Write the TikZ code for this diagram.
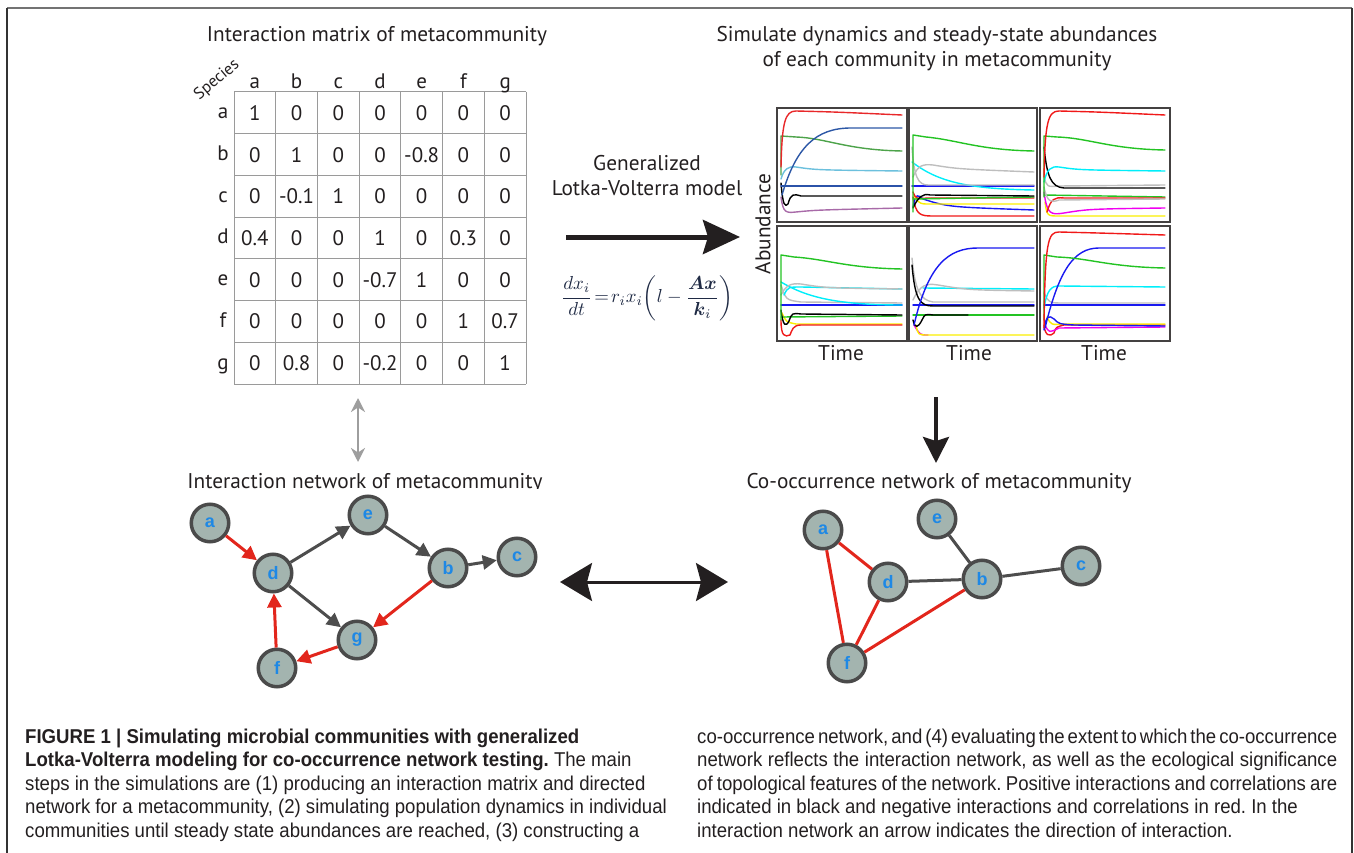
\documentclass[tikz,border=0pt]{standalone}
\usepackage{amsmath}
\usepackage{graphicx}
\usepackage{fontspec}
\setmainfont{PT Sans}
\newfontfamily\capfont[FakeStretch=0.93]{Liberation Sans}
\newfontfamily\lblfont{Liberation Sans}
\usetikzlibrary{arrows.meta}
\frenchspacing

\definecolor{ink}{HTML}{231F20}
\definecolor{gridgray}{HTML}{9A9A9A}
\definecolor{nodefill}{RGB}{163,180,175}
\definecolor{nodeedge}{HTML}{4A4A4A}
\definecolor{labelblue}{RGB}{30,136,229}
\definecolor{negred}{RGB}{226,38,28}
\definecolor{posgray}{HTML}{4D4D4D}
\definecolor{eqnavy}{HTML}{1F2A44}
\definecolor{cRed}{RGB}{240,25,25}
\definecolor{cGreen}{RGB}{35,195,35}
\definecolor{cCyan}{RGB}{0,238,250}
\definecolor{cBlue}{RGB}{25,25,240}
\definecolor{cGray}{RGB}{190,190,190}
\definecolor{cYel}{RGB}{250,238,0}
\definecolor{cMag}{RGB}{240,0,240}
\definecolor{mRed}{RGB}{232,40,42}
\definecolor{mNavy}{RGB}{44,87,166}
\definecolor{mGreen}{RGB}{77,163,74}
\definecolor{mLight}{RGB}{108,192,221}
\definecolor{mBlue}{RGB}{43,82,168}
\definecolor{mPurple}{RGB}{168,106,168}

\newcommand\headsize{\fontsize{21.3}{25}\selectfont}
\newcommand\cellsize{\fontsize{21}{25}\selectfont}
\newcommand\capsize{\fontsize{20}{23.5}\selectfont}
% justified caption line: tight interword spaces, spread to the column width
\newcommand\fullline[1]{{\spaceskip=0.17em plus 0.6em minus 0.05em\makebox[640pt][s]{#1}}}

\tikzset{
  heading/.style={font=\headsize, text=ink, inner sep=0pt, anchor=base},
  cell/.style={font=\cellsize, text=ink, inner sep=0pt, anchor=base},
  sp/.style={circle, draw=nodeedge, line width=3.5pt, fill=nodefill,
    minimum size=37.5pt, inner sep=0pt, font=\lblfont\bfseries\fontsize{18}{18}\selectfont,
    text=labelblue},
  posedge/.style={draw=posgray, line width=3pt},
  negedge/.style={draw=negred, line width=3pt},
  tipped/.style={-{Triangle[length=14pt,width=14pt]}},
  panel/.style={draw=ink!85, line width=1.6pt, minimum width=130pt,
    minimum height=114pt, inner sep=0pt, anchor=north west},
  curve/.style={line width=1.4pt, line cap=round, line join=round},
  capline/.style={anchor=base west, inner sep=0pt, font=\capfont\capsize, text=ink},
}

\begin{document}
\begin{tikzpicture}[x=1pt,y=-1pt]
\useasboundingbox (0,0) rectangle (1354,853);

% outer frame (open at the bottom)
\draw[line width=1.6pt, draw=black!55] (7,8) -- (1352,8);
\draw[line width=1.6pt, draw=black!80] (7,8) -- (7,853);
\draw[line width=1.6pt, draw=black!80] (1352,8) -- (1352,853);

% ---------- interaction matrix ----------
\node[heading] (t-matrix) at (377,42) {Interaction matrix of metacommunity};
\foreach \k in {0,...,7} {
  \draw[gridgray, line width=1pt] ({234+41.714*\k},92) -- ({234+41.714*\k},384);
  \draw[gridgray, line width=1pt] (234,{92+41.714*\k}) -- (526,{92+41.714*\k});
}
\node[font=\fontsize{16.5}{18}\selectfont, text=ink, inner sep=0pt, rotate=40] (species) at (217,80) {Species};
\foreach \s [count=\j from 0] in {a,b,c,d,e,f,g} {
  \node[cell] (col-\s) at ({234+41.714*(\j+0.5)},89) {\s};
  \node[cell] (row-\s) at (223,{92+41.714*(\j+0.5)+6}) {\s};
}
\foreach \r/\vals [count=\i from 0] in {
  a/{1,0,0,0,0,0,0},
  b/{0,1,0,0,-0.8,0,0},
  c/{0,-0.1,1,0,0,0,0},
  d/{0.4,0,0,1,0,0.3,0},
  e/{0,0,0,-0.7,1,0,0},
  f/{0,0,0,0,0,1,0.7},
  g/{0,0.8,0,-0.2,0,0,1}} {
  \foreach \v [count=\j from 0] in \vals {
    \node[cell] (m-\i-\j) at ({234+41.714*(\j+0.5)},{92+41.714*(\i+0.5)+7.5}) {\v};
  }
}

% ---------- model arrow ----------
\node[heading] (glv1) at (647,171) {Generalized};
\node[heading] (glv2) at (647,196) {Lotka-Volterra model};
\coordinate (lv-from) at (566,237);
\coordinate (lv-to) at (740,237);
\draw[line width=5pt, draw=ink, -{Stealth[length=37pt,width=34pt,inset=5pt]}] (lv-from) -- (lv-to);
\node[inner sep=0pt, text=eqnavy] (eqn) at (647,298)
  {\resizebox{172pt}{!}{$\dfrac{dx_i}{dt}\!=\!r_i x_i\!\left(l-\dfrac{\boldsymbol{Ax}}{\boldsymbol{k}_i}\right)$}};

% ---------- dynamics panels ----------
\node[heading] (t-dyn1) at (937,42) {Simulate dynamics and steady-state abundances};
\node[heading] (t-dyn2) at (937,67) {of each community in metacommunity};
\node[font=\headsize, text=ink, inner sep=0pt, rotate=90] (abund) at (763,224) {Abundance};

% panel 1
\begin{scope}[shift={(776,107)}]
\clip (0,0) rectangle (130,114);
\draw[curve, mPurple] (5,90) .. controls (7,106) and (10,106) .. (20,105) .. controls (40,103) .. (126,101);
\draw[curve, black] (5,76) .. controls (7,100) and (9,100) .. (12,97) .. controls (15,86) and (18,87) .. (25,89) -- (126,89);
\draw[curve, mBlue] (5,79) -- (126,79);
\draw[curve, mLight] (5,72) .. controls (8,62) and (12,59) .. (20,60) .. controls (40,63) .. (126,64);
\draw[curve, mGreen] (5,68) -- (5,29) -- (20,30) .. controls (50,31) and (70,43) .. (126,44);
\draw[curve, mNavy] (6,88) .. controls (20,40) and (40,21) .. (75,21) -- (126,21);
\draw[curve, mRed] (5,60) .. controls (6,15) and (9,4) .. (20,4) .. controls (60,5) .. (126,8);
\end{scope}
\node[panel] (p1) at (776,107) {};

% panel 2
\begin{scope}[shift={(908,107)}]
\clip (0,0) rectangle (128,114);
\draw[curve, cRed] (5,90) .. controls (8,108) and (12,109) .. (25,109) -- (126,109);
\draw[curve, cBlue] (5,100) .. controls (8,85) and (10,88) .. (15,92) .. controls (40,100) .. (126,103);
\draw[curve, cYel] (6,88) .. controls (10,98) and (14,97) .. (25,97) -- (126,97);
\draw[curve, cRed] (5,85) .. controls (8,92) .. (20,91) -- (126,91);
\draw[curve, cGreen] (5,92) -- (126,90);
\draw[curve, black] (5,101) .. controls (10,90) and (15,86) .. (22,88) -- (126,89);
\draw[curve, cBlue] (4,79) -- (126,79);
\draw[curve, cCyan] (4,55) .. controls (30,75) and (60,82) .. (126,83);
\draw[curve, cGray] (4,40) .. controls (6,70) and (10,78) .. (20,78) -- (126,78);
\draw[curve, cGray] (5,70) .. controls (10,58) and (15,57) .. (25,58) .. controls (50,62) .. (126,65);
\draw[curve, cGreen] (5,105) -- (5,28) -- (18,30) .. controls (50,33) and (70,43) .. (126,44);
\end{scope}
\node[panel, minimum width=128pt] (p2) at (908,107) {};

% panel 3
\begin{scope}[shift={(1039,107)}]
\clip (0,0) rectangle (130,114);
\draw[curve, cYel] (6,95) .. controls (8,109) .. (20,109) -- (126,109);
\draw[curve, cMag] (5,85) .. controls (8,108) and (12,108) .. (25,106) .. controls (50,102) .. (126,101);
\draw[curve, cGreen] (5,88) -- (126,90);
\draw[curve, cRed] (8,105) .. controls (12,92) and (15,90) .. (25,91) -- (126,91);
\draw[curve, cGray] (5,80) .. controls (8,95) and (12,96) .. (20,93) -- (126,92);
\draw[curve, cGray] (5,70) .. controls (8,80) .. (20,79) -- (126,78);
\draw[curve, black] (5,40) .. controls (8,70) and (12,80) .. (25,81) -- (126,81);
\draw[curve, cCyan] (5,75) .. controls (8,62) and (12,59) .. (20,60) .. controls (40,63) .. (126,64);
\draw[curve, cGreen] (5,90) -- (5,29) -- (18,30) .. controls (50,31) and (70,42) .. (126,43);
\draw[curve, cRed] (5,70) .. controls (6,15) and (9,4) .. (20,4) .. controls (60,5) .. (126,8);
\end{scope}
\node[panel] (p3) at (1039,107) {};

% panel 4
\begin{scope}[shift={(776,225)}]
\clip (0,0) rectangle (130,115);
\draw[curve, cYel] (6,88) .. controls (10,97) .. (20,99) -- (126,99);
\draw[curve, cRed] (5,95) .. controls (5,112) and (9,112) .. (14,110) .. controls (16,105) and (17,100) .. (25,100) -- (126,100);
\draw[curve, cGreen] (5,92) -- (126,91);
\draw[curve, black] (5,85) .. controls (7,102) and (10,102) .. (13,96) .. controls (16,88) .. (25,89) -- (126,90);
\draw[curve, cBlue] (5,80) -- (126,80);
\draw[curve, cGray] (5,60) .. controls (10,75) .. (25,77) -- (126,78);
\draw[curve, cCyan] (5,57) .. controls (30,72) and (60,80) .. (126,80);
\draw[curve, cCyan] (8,70) .. controls (12,62) .. (25,62) -- (126,64);
\draw[curve, cGray] (5,70) .. controls (10,60) and (15,58) .. (25,59) .. controls (50,63) .. (126,64);
\draw[curve, cGreen] (5,95) -- (5,30) -- (18,32) .. controls (50,34) and (70,43) .. (126,44);
\end{scope}
\node[panel, minimum height=115pt] (p4) at (776,225) {};

% panel 5
\begin{scope}[shift={(908,225)}]
\clip (0,0) rectangle (128,115);
\draw[curve, cMag] (6,100) .. controls (12,110) .. (20,110);
\draw[curve, cYel] (8,100) .. controls (10,110) .. (20,110) -- (126,110);
\draw[curve, cGreen] (5,90) -- (126,90);
\draw[curve, black] (5,95) .. controls (7,104) and (10,103) .. (14,95) .. controls (17,89) .. (25,90) -- (60,90);
\draw[curve, cBlue] (5,80) -- (126,80);
\draw[curve, cCyan] (15,63) -- (126,64);
\draw[curve, cGray] (5,75) .. controls (12,60) and (18,58) .. (30,60) .. controls (60,65) .. (126,66);
\draw[curve, cGray] (4,33) .. controls (7,65) and (12,75) .. (25,77) -- (126,77);
\draw[curve, black] (4,40) .. controls (7,75) and (12,81) .. (25,81) -- (126,81);
\draw[curve, cBlue] (6,100) .. controls (20,40) and (40,23) .. (70,23) -- (126,23);
\end{scope}
\node[panel, minimum width=128pt, minimum height=115pt] (p5) at (908,225) {};

% panel 6
\begin{scope}[shift={(1039,225)}]
\clip (0,0) rectangle (130,115);
\draw[curve, cRed] (5,100) .. controls (6,111) and (11,112) .. (15,108) .. controls (17,102) .. (25,100) -- (126,100);
\draw[curve, cMag] (6,100) .. controls (10,108) .. (20,103) -- (126,102);
\draw[curve, cYel] (8,92) .. controls (12,100) .. (25,99) -- (126,99);
\draw[curve, cBlue] (5,105) .. controls (7,90) and (10,90) .. (15,94) .. controls (20,99) .. (35,100) -- (126,101);
\draw[curve, cBlue] (5,80) -- (126,80);
\draw[curve, cGray] (5,68) .. controls (10,78) .. (25,78) -- (126,78);
\draw[curve, cCyan] (5,83) .. controls (8,65) and (12,61) .. (20,61) -- (126,62);
\draw[curve, cBlue] (6,103) .. controls (20,45) and (35,23) .. (60,23) -- (126,23);
\draw[curve, cGreen] (5,95) -- (5,30) -- (18,32) .. controls (50,33) and (70,42) .. (126,43);
\draw[curve, cRed] (5,103) .. controls (6,15) and (9,7) .. (20,7) .. controls (60,8) .. (126,10);
\end{scope}
\node[panel, minimum height=115pt] (p6) at (1039,225) {};

\node[heading] (time1) at (841,360) {Time};
\node[heading] (time2) at (969,360) {Time};
\node[heading] (time3) at (1104,360) {Time};

% ---------- vertical connectors ----------
\coordinate (gm-top) at (358,398);
\coordinate (gm-bot) at (358,462);
\draw[line width=2.8pt, draw=black!38, {Stealth[length=14pt,width=14pt]}-{Stealth[length=14pt,width=14pt]}] (gm-top) -- (gm-bot);
\coordinate (dn-top) at (936,397);
\coordinate (dn-bot) at (936,463);
\draw[line width=4pt, draw=ink, -{Stealth[length=26pt,width=26pt,inset=4pt]}] (dn-top) -- (dn-bot);

% ---------- interaction network ----------
\begin{scope}
\clip (150,455) rectangle (600,488.6);
\node[heading] (t-inet) at (365,488) {Interaction network of metacommunity};
\end{scope}
\node[sp] (a) at (210,523) {a};
\node[sp] (d) at (273,573) {d};
\node[sp] (e) at (368,515) {e};
\node[sp] (b) at (448,568) {b};
\node[sp] (c) at (517,557) {c};
\node[sp] (g) at (357,640) {g};
\node[sp] (f) at (277,668) {f};
\draw[negedge, tipped] (a) -- (d);
\draw[posedge, tipped] (d) -- (e);
\draw[posedge, tipped] (e) -- (b);
\draw[posedge, tipped] (b) -- (c);
\draw[posedge, tipped] (d) -- (g);
\draw[negedge, tipped] (b) -- (g);
\draw[negedge, tipped] (g) -- (f);
\draw[negedge, tipped] (f) -- (d);

% ---------- network comparison ----------
\coordinate (cmp-l) at (560,582);
\coordinate (cmp-r) at (728,582);
\draw[line width=3pt, draw=ink, {Stealth[length=32pt,width=38pt,inset=5pt]}-{Stealth[length=32pt,width=38pt,inset=5pt]}] (cmp-l) -- (cmp-r);

% ---------- co-occurrence network ----------
\node[heading] (t-cnet) at (939,488) {Co-occurrence network of metacommunity};
\node[sp] (ca) at (823,530) {a};
\node[sp] (ce) at (937,519) {e};
\node[sp] (cd) at (888,582) {d};
\node[sp] (cb) at (982,579) {b};
\node[sp] (cc) at (1081,566) {c};
\node[sp] (cf) at (847,663) {f};
\draw[negedge] (ca) -- (cd);
\draw[negedge] (ca) -- (cf);
\draw[negedge] (cd) -- (cf);
\draw[negedge] (cb) -- (cf);
\draw[posedge] (cd) -- (cb);
\draw[posedge] (ce) -- (cb);
\draw[posedge] (cb) -- (cc);

% ---------- caption ----------
\node[capline] (cl1) at (25,743) {\bfseries FIGURE 1 | Simulating microbial communities with generalized};
\node[capline] (cl2) at (25,766.5) {\bfseries Lotka-Volterra modeling for co-occurrence network testing.\mdseries{} The main};
\node[capline] (cl3) at (25,790) {steps in the simulations are (1) producing an interaction matrix and directed};
\node[capline] (cl4) at (25,813.5) {network for a metacommunity, (2) simulating population dynamics in individual};
\node[capline] (cl5) at (25,837) {communities until steady state abundances are reached, (3) constructing a};
\node[capline] (cr1) at (697,743) {\fullline{co-occurrence network, and (4) evaluating the extent to which the co-occurrence}};
\node[capline] (cr2) at (697,766.5) {\fullline{network reflects the interaction network, as well as the ecological significance}};
\node[capline] (cr3) at (697,790) {\fullline{of topological features of the network. Positive interactions and correlations are}};
\node[capline] (cr4) at (697,813.5) {indicated in black and negative interactions and correlations in red. In the};
\node[capline] (cr5) at (697,837) {interaction network an arrow indicates the direction of interaction.};
\end{tikzpicture}
\end{document}
